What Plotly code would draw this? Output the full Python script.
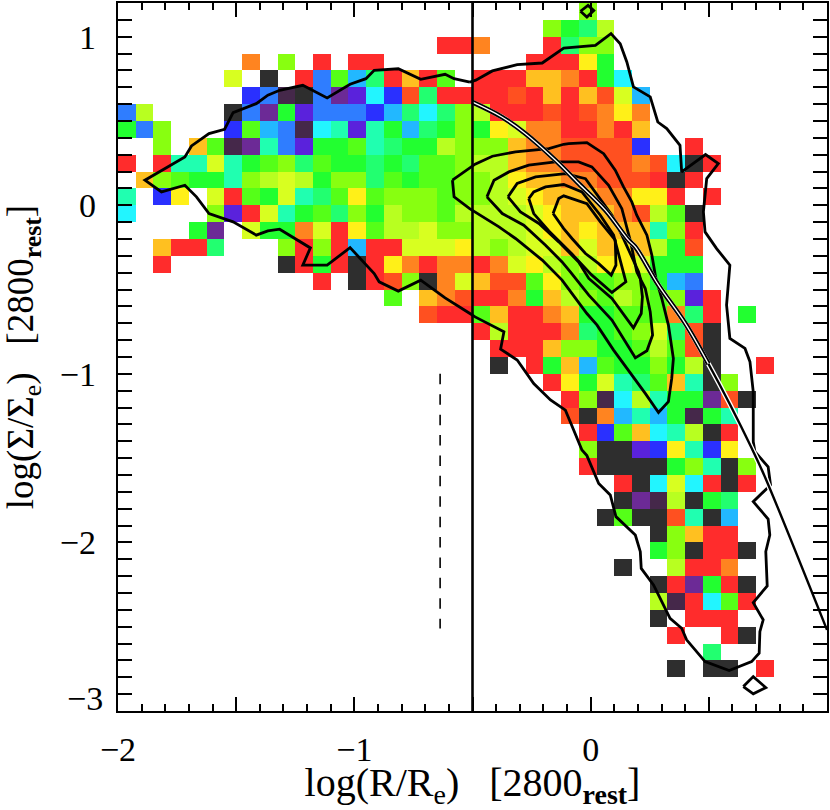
#Surface brightness profiles, 2800 rest frame
import plotly.graph_objects as go

N = None
FONT = "Liberation Serif"

# colour grades of the cells: dark -> purple -> blue -> cyan -> green -> yellow -> red
grade_colors = ["#2e2e2e", "#45284a", "#6c2a96", "#5a22dc", "#2a30ff", "#2f7dff", "#22b8ff",
                "#22f5ff", "#20ffb0", "#22ff70", "#22ff30", "#55ff18", "#88ff10", "#b8ff20",
                "#d8ff20", "#fff018", "#ffc020", "#ff8420", "#ff5020", "#ff2c2c"]

# grid: 40 columns from x=-2, 42 rows from y=1.2 downwards
row_first = [26, 24, 18, 7, 6, 7, 0, 0, 2, 0, 1, 0, 0, 4, 2, 2, 11, 15, 17, 20, 21, 21,
             24, 25, 25, 26, 26, 26, 28, 28, 27, 30, 30, 28, 30, 30, 30, 31, 33, 31]
row_grades = [
    [12],
    [12, 10, 9, 13],
    [19, 19, 17, N, N, N, 19, 9, 12, 12],
    [17, N, 12, N, 19, N, 19, 19, N, N, N, N, N, N, N, N, 19, 19, 19, 15, 10],
    [14, N, 0, N, 19, 5, 11, 6, 9, 19, 16, 19, 11, N, 19, 19, 19, 16, 16, 17, 19, 10, 7],
    [4, 5, 1, 0, 5, 2, 3, 7, 4, 18, 9, 19, 19, 19, 19, 18, 19, 16, 19, 16, 18, 14, 6],
    [5, 13, N, N, N, N, 0, 5, 2, 10, 3, 5, 5, 5, 4, 6, 9, 7, 9, 12, 13, 19, 19, 19, 18, 19, 18, 17, 15, 17],
    [10, 5, 12, N, N, N, 4, 11, 6, 5, 1, 7, 8, 3, 8, 10, 6, 9, 10, 12, 10, 15, 14, 17, 17, 19, 19, 17, 19, 16],
    [12, N, 16, 11, 1, 2, 8, 5, 3, 10, 10, 11, 8, 9, 10, 10, 13, 12, 12, 12, 16, 17, 17, 18, 18, 18, 18, 4, N, N, 19],
    [19, N, 19, 8, 8, 14, 8, 10, 11, 12, 9, 11, 10, 10, 9, 10, 9, 11, 11, 12, 13, 13, 16, 17, 17, 18, 18, 18, 18, 17, 18, 7, 0, 19],
    [16, 12, 11, 10, 10, 8, 12, 13, 14, 13, 10, 12, 12, 9, 11, 10, 11, 11, 12, 12, 13, 15, 16, 16, 17, 17, 18, 18, 18, 19, 0, 19],
    [8, N, 4, 15, N, 14, 19, 11, 10, 14, 8, 9, 11, 15, 11, 12, 12, 12, 11, 12, 12, 13, 14, 15, 16, 16, 16, 17, 17, 15, 15, 19, N, 19],
    [7, N, N, N, N, 12, 3, 19, 14, 8, 10, 11, 9, 12, 10, 13, 12, 12, 11, 13, 13, 13, 13, 14, 15, 16, 16, 16, 17, 18, 13, 11, 0],
    [10, 2, N, 14, 10, 10, 17, 14, 19, 15, 11, 13, 13, 14, 12, 12, 13, 13, 13, 14, 15, 16, 15, 16, 16, 16, 8, 12, 19],
    [16, 19, 19, 9, N, N, N, 12, 19, 12, 19, 6, 19, 19, 14, 14, 14, 15, 13, 12, 13, 14, 14, 16, 14, 16, 15, 16, 13, 10, 18],
    [19, N, N, N, N, N, N, 0, 19, 10, 19, 0, 19, 15, 17, 19, 17, 17, 19, 17, 14, 15, 13, 12, 13, 15, 15, 14, 10, 10, 10],
    [19, N, 0, 19, 18, 12, 0, 17, 14, 16, 18, 18, 11, 15, 12, 11, 11, 12, 12, 10, 6, 5],
    [11, N, 16, 17, 18, 19, 19, 17, 10, 16, 13, 12, 11, 13, 12, 11, 12, 3, 19],
    [18, 19, 19, 11, 16, 19, 19, 17, 16, 10, 10, 11, 11, 11, 17, 9, 19, N, 10],
    [19, 13, 19, 19, 19, 17, 9, 10, 11, 12, 14, 9, 18, 0],
    [19, 19, 19, 16, 12, 12, 10, 10, 11, 13, 11, 18, 0],
    [0, N, 19, 10, 16, 6, 11, 10, 10, 12, 10, 13, 0, N, N, 19],
    [19, 15, 10, 14, 8, 9, 11, 16, 8, 0, 12],
    [19, 12, 1, 7, 13, 8, 10, 10, 2, 18, 0],
    [18, 0, 17, 6, 8, 6, 10, 1, 10, 8],
    [19, 4, 11, 16, 7, 8, 13, 0, 19],
    [12, 0, 0, 3, 4, 15, 8, 4, 15],
    [19, 0, 0, 0, 0, 10, 12, 8, 0, 12],
    [19, 0, 7, 14, 7, 19, 0, 19],
    [0, 2, 1, 13, 0, 10, 9],
    [0, 11, 0, 0, 18, 8, 0, 6],
    [0, 12, 16, 19, 19],
    [10, 12, 0, 19, 19, 0],
    [0, N, N, 13, 19, 19, 17],
    [0, 19, 2, 10, 19, 0],
    [13, 1, 19, 7, 11, 19],
    [0, N, 19, 19, 19],
    [19, N, N, 19, 0],
    [9],
    [0, N, 0, 0, N, 19],
]

# outer contour
outer_x = [-.511, -.578, -.616, -.719, -.814, -.916, -.951, -1.018, -1.115, -1.218, -1.316, -1.366, -1.415, -1.513,
           -1.549, -1.615, -1.689, -1.717, -1.886, -1.816, -1.717, -1.668, -1.615, -1.513, -1.415, -1.366, -1.316,
           -1.186, -1.218, -1.115, -1.018, -.916, -.895, -.814, -.719, -.616, -.511, -.489, -.367, -.381, -.311,
           -.241, -.170, -.107, -.072, -.037, -.016, .034, .083, .107, .189, .210, .214, .266, .336, .385, .406,
           .484, .586, .681, .713, .716, .730, .688, .747, .741, .758, .751, .688, .737, .761, .751, .695, .688,
           .688, .674, .653, .589, .575, .589, .533, .484, .477, .491, .540, .486, .385, .378, .322, .284, .252,
           .181, .153, .125, .086, .020, -.114, -.205, -.311, -.416, -.486, -.511]
outer_y = [.731, .751, .777, .747, .810, .801, .751, .718, .637, .712, .682, .653, .603, .550,
           .451, .425, .352, .287, .149, .079, .119, .050, -.049, -.098, -.177, -.152, -.142,
           -.253, -.355, -.355, -.251, -.405, -.454, -.509, -.444, -.549, -.642, -.662, -.750, -.853, -.918,
           -1.057, -1.155, -1.215, -1.333, -1.452, -1.485, -1.650, -1.718, -1.847, -1.956, -2.055, -2.154, -2.252,
           -2.450, -2.509, -2.578, -2.707, -2.760, -2.707, -2.657, -2.529, -2.459, -2.357, -2.258, -2.054, -1.956,
           -1.861, -1.758, -1.695, -1.659, -1.551, -1.462, -1.402, -1.106, -.928, -.849, -.790, -.592, -.355, -.257,
           -.158, -.039, .158, .247, .301, .198, .356, .455, .494, .643, .702, .850, .958, 1.018, .949, .933, .844,
           .834, .797, .742, .731]

# inner contours, outermost first
level1_x = [-.585, -.512, -.489, -.416, -.318, -.177, -.114, -.093, -.016, .055, .104, .139, .174, .195, .238, .259,
            .276, .301, .329, .350, .343, .329, .287, .231, .174, .097, .027, -.016, -.100, -.121, -.205, -.318,
            -.388, -.489, -.512, -.578, -.585]
level1_y = [.149, .222, .244, .291, .317, .336, .362, .366, .372, .306, .208, .109, .020, -.059, -.177, -.296,
            -.434, -.553, -.711, -.909, -1.027, -1.165, -1.229, -1.116, -1.007, -.859, -.711, -.642, -.484, -.444,
            -.325, -.197, -.128, -.043, -.020, .050, .149]
level2_x = [-.439, -.409, -.346, -.262, -.149, -.051, .005, .076, .132, .169, .195, .231, .252, .262, .238, .189,
            .090, -.008, -.086, -.121, -.191, -.283, -.374, -.439]
level2_y = [.050, .149, .198, .238, .257, .257, .228, .119, -.020, -.217, -.395, -.494, -.632, -.770, -.863, -.905,
            -.681, -.533, -.395, -.336, -.237, -.118, -.049, .050]
level3_x = [-.350, -.311, -.233, -.107, -.022, .041, .090, .132, .203, .210, .219, .214, .181, .090, -.008, -.051,
            -.135, -.219, -.297, -.350]
level3_y = [.050, .129, .168, .188, .158, .040, -.059, -.177, -.395, -.434, -.543, -.642, -.727, -.553, -.434, -.336,
            -.217, -.108, -.039, .050]
level4_x = [-.262, -.241, -.191, -.114, -.037, .041, .097, .139, .149, .090, .004, -.080, -.177, -.241, -.262]
level4_y = [.040, .079, .109, .123, .079, -.059, -.177, -.395, -.454, -.517, -.413, -.288, -.152, -.049, .040]
level5_x = [-.159, -.135, -.114, -.016, .041, .104, .107, .087, .034, -.022, -.079, -.114, -.159]
level5_y = [-.049, .040, .056, .010, -.098, -.207, -.355, -.414, -.346, -.286, -.197, -.138, -.049]

# the two small isolated contours
top_diamond_x = [-.043, -.011, .013, -.016, -.043]
top_diamond_y = [1.151, 1.186, 1.156, 1.117, 1.151]
low_diamond_x = [.646, .688, .741, .688, .646]
low_diamond_y = [-2.855, -2.796, -2.861, -2.898, -2.855]

# reference profile
profile_x = [-.502, -.376, -.276, -.149, -.051, .062, .160, .189, .287, .400, .498, .589, .681, .737, 1.0]
profile_y = [.613, .524, .425, .267, .129, -.029, -.207, -.247, -.474, -.700, -.940, -1.180, -1.440, -1.610, -2.519]
SPLIT = 11  # the upper part of the profile is drawn double

dash_x = [-.637, -.637]
dash_y = [-1.0, -2.51]
limit_x = [-.5, -.5]
limit_y = [-3.0, 1.2]

x_ticks = [-2, -1, 0]
x_labels = ["\u22122", "\u22121", "0"]
x_half_ticks = [-1.5, -.5, .5]
y_ticks = [1, 0, -1, -2]
y_labels = ["1", "0", "\u22121", "\u22122"]

# fill the grid from the rows
z = [[None] * 40 for _ in range(42)]
for k, (first, grades) in enumerate(zip(row_first, row_grades)):
    for i, g in enumerate(grades):
        z[k][first + i] = g
x_centers = [-2 + 0.075 * (i + 0.5) for i in range(40)]
y_centers = [1.2 - 0.1 * (k + 0.5) for k in range(42)]
scale = [[i / 19, c] for i, c in enumerate(grade_colors)]


def line(x, y, width=2.8, color="black", **kw):
    return go.Scatter(x=x, y=y, mode="lines", line=dict(color=color, width=width, **kw),
                      showlegend=False, hoverinfo="skip")


fig = go.Figure()
fig.add_trace(go.Heatmap(x=x_centers, y=y_centers, z=z, zmin=0, zmax=19, colorscale=scale,
                         showscale=False, hoverinfo="skip"))

for cx, cy in [(outer_x, outer_y), (level1_x, level1_y), (level2_x, level2_y), (level3_x, level3_y),
               (level4_x, level4_y), (level5_x, level5_y), (top_diamond_x, top_diamond_y),
               (low_diamond_x, low_diamond_y)]:
    fig.add_trace(line(cx, cy))

# profile: white halo, then black, then thin white core on the upper part
fig.add_trace(line(profile_x, profile_y, 5, "white", shape="spline"))
fig.add_trace(line(profile_x, profile_y, 2.4, "black", shape="spline"))
fig.add_trace(line(profile_x[:SPLIT], profile_y[:SPLIT], 4.8, "black", shape="spline"))
fig.add_trace(line(profile_x[:SPLIT], profile_y[:SPLIT], 1.3, "white", shape="spline"))

# the vertical limit sits on the second x axis, which carries the ticks at the half decades
limit = line(limit_x, limit_y, 2.6)
limit.update(xaxis="x2")
fig.add_trace(limit)
fig.add_trace(line(dash_x, dash_y, 1.6, dash="10.5px,9.9px"))

tickfont = dict(family=FONT, size=34, color="black")
axis_style = dict(ticks="inside", ticklen=14, tickwidth=2, tickcolor="black", mirror="allticks",
                  showline=True, linewidth=2.4, linecolor="black", showgrid=False, zeroline=False)
minor_style = dict(ticks="inside", ticklen=7, tickwidth=2, tickcolor="black", dtick=0.1, tick0=0, showgrid=False)
fig.update_xaxes(range=[-2, 1], tickmode="array", tickvals=x_ticks, ticktext=x_labels, tickfont=tickfont,
                 ticklabelstandoff=7, minor=minor_style, **axis_style,
                 title=dict(text="log(R/R<sub>e</sub>)\u00a0\u00a0\u00a0[2800<sub><b>rest</b></sub>]",
                            font=dict(family=FONT, size=40, color="black"), standoff=8))
fig.update_yaxes(range=[-3, 1.2], tickmode="array", tickvals=y_ticks, ticktext=y_labels, tickfont=tickfont,
                 ticklabelstandoff=13, minor=minor_style, **axis_style,
                 title=dict(text="log(\u03a3/\u03a3<sub>e</sub>)\u00a0\u00a0\u00a0[2800<sub><b>rest</b></sub>]",
                            font=dict(family=FONT, size=37, color="black"), standoff=18))

# the -3 label sits a little above its tick
fig.add_annotation(x=0, xref="paper", y=-3, yref="y", text="\u22123", showarrow=False, font=tickfont,
                   xanchor="right", yanchor="bottom", xshift=-13, yshift=-8)

fig.update_layout(width=830, height=810, margin=dict(l=118, r=1, t=1, b=99),
                  plot_bgcolor="white", paper_bgcolor="white",
                  xaxis2=dict(range=[-2, 1], overlaying="x", side="bottom", anchor="y", tickmode="array",
                              tickvals=x_half_ticks, showticklabels=False, **axis_style))

fig.write_html("out.html", config={"displayModeBar": False}, post_script="document.body.style.margin='0';")
